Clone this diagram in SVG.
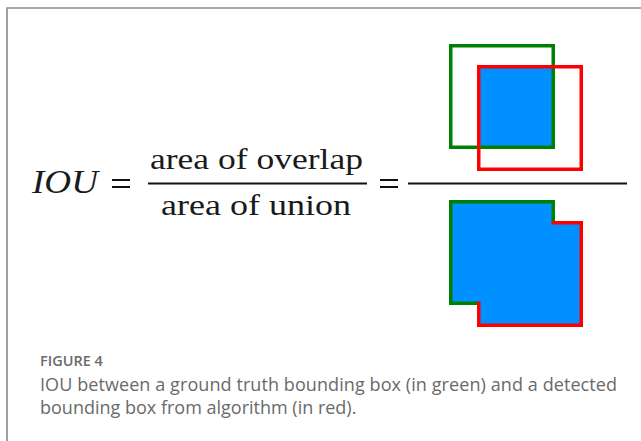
<svg xmlns="http://www.w3.org/2000/svg" width="641" height="441" viewBox="0 0 641 441">
  <style>
    .math { font-family: "Liberation Serif", "DejaVu Serif", serif; fill: #1a1a1a; }
    .rule { stroke: #111; stroke-width: 1.8; fill: none; }
    .gt { fill: none; stroke: #008000; stroke-width: 3.5; stroke-linejoin: miter; }
    .det { fill: none; stroke: #ff0000; stroke-width: 3.5; stroke-linejoin: miter; }
    .area { fill: #0090ff; stroke: none; }
    .label { font-family: "Open Sans", "Liberation Sans", sans-serif; fill: #6a6a6a; }
  </style>

  <rect width="641" height="441" fill="#ffffff"/>
  <!-- panel frame -->
  <path d="M7,441 V8 H641" fill="none" stroke="#8a8a8a" stroke-width="1.6"/>

  <!-- formula -->
  <g id="formula">
    <text class="math" x="32" y="193" font-size="33" font-style="italic" textLength="66" lengthAdjust="spacingAndGlyphs">IOU</text>
    <path class="rule" d="M112,180 H130 M112,187 H130"/>
    <text class="math" x="150" y="169" font-size="30" textLength="213" lengthAdjust="spacingAndGlyphs">area of overlap</text>
    <path class="rule" d="M148,183.5 H367"/>
    <text class="math" x="161" y="215" font-size="30" textLength="190" lengthAdjust="spacingAndGlyphs">area of union</text>
    <path class="rule" d="M380,180 H398 M380,187 H398"/>
    <path class="rule" d="M408,183.5 H627"/>
  </g>

  <!-- intersection of the two boxes -->
  <g id="overlap">
    <rect class="area" x="477" y="65" width="78" height="84"/>
    <rect class="gt" x="450.75" y="45.75" width="102.5" height="101.5"/>
    <rect class="det" x="478.75" y="66.75" width="102.5" height="102.5"/>
  </g>

  <!-- union of the two boxes -->
  <g id="union">
    <polygon class="area" points="449,200 555,200 555,221 583,221 583,327 477,327 477,305 449,305"/>
    <path class="gt" d="M478.75,303.25 H450.75 V201.75 H553.25 V222.75"/>
    <path class="det" d="M551.5,222.75 H581.25 V325.25 H478.75 V301.5"/>
  </g>

  <!-- caption -->
  <g id="caption">
    <text class="label" x="40" y="366" font-size="14.5" font-weight="600" fill="#777777">FIGURE 4</text>
    <text class="label" x="40" y="391" font-size="18" textLength="577" lengthAdjust="spacing">IOU between a ground truth bounding box (in green) and a detected</text>
    <text class="label" x="40" y="414" font-size="18">bounding box from algorithm (in red).</text>
  </g>
</svg>
